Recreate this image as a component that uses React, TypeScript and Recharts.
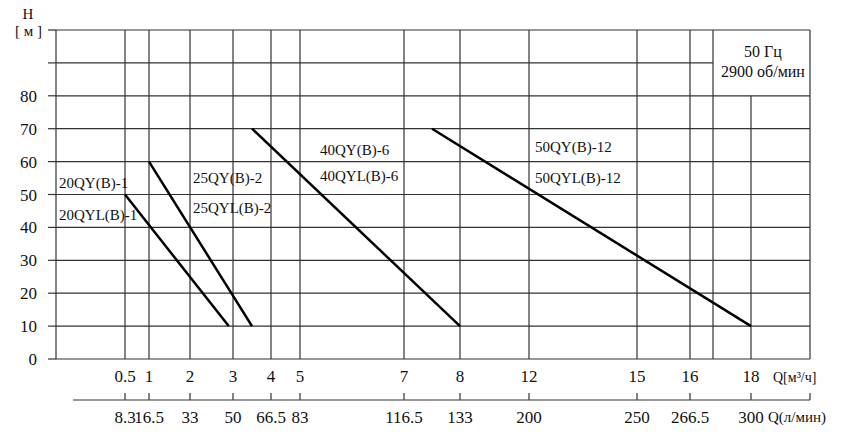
import React from "react";
import { LineChart, Line, XAxis, YAxis, ReferenceLine, ReferenceDot } from "recharts";

// Q axis is not linear: each tick has its own place along the axis (0..754)
const qTicks = [0.5, 1, 2, 3, 4, 5, 7, 8, 12, 15, 16, 18];
const lminTicks = ["8.3", "16.5", "33", "50", "66.5", "83", "116.5", "133", "200", "250", "266.5", "300"];
const qStops = [69, 93, 134, 177, 215, 244, 348, 404, 473, 581, 634, 695];
const axisEnd = 754;
const boxEdge = 657;
const hTicks = [0, 10, 20, 30, 40, 50, 60, 70, 80, 90, 100];

// pump curves, Q in m3/h, H in m
const pump20 = [{ q: 0.5, h: 50 }, { q: 2.9, h: 10 }];
const pump25 = [{ q: 1, h: 60 }, { q: 3.5, h: 10 }];
const pump40 = [{ q: 3.5, h: 70 }, { q: 8, h: 10 }];
const pump50 = [{ q: 7.5, h: 70 }, { q: 18, h: 10 }];

const curveLabels = ["20QY(B)-1", "20QYL(B)-1", "25QY(B)-2", "25QYL(B)-2", "40QY(B)-6", "40QYL(B)-6", "50QY(B)-12", "50QYL(B)-12"];
const labelAnchors = [
  [3, 52], [3, 42.2], [137, 53.5], [137, 44.4],
  [264, 62], [264, 54.1], [479, 62.9], [479, 53.5],
];

const GRID = "#333";
const FONT = "'Liberation Serif', 'Times New Roman', serif";
const ROW2 = 41; // gap between the plot bottom and the l/min axis line
const ROW2_START = 17; // l/min axis line starts a bit right of the plot edge

const qToPos = (q: number) => {
  for (let i = 0; i < qTicks.length - 1; i++) {
    if (q <= qTicks[i + 1]) {
      const t = (q - qTicks[i]) / (qTicks[i + 1] - qTicks[i]);
      return qStops[i] + t * (qStops[i + 1] - qStops[i]);
    }
  }
  return qStops[qStops.length - 1];
};

const toPoints = (arr: { q: number; h: number }[]) => arr.map(p => ({ x: qToPos(p.q), h: p.h }));

// draws both rows: m3/h labels, then the l/min axis with its ticks and labels
const QTick = ({ x, y, payload }: any) => {
  const i = qStops.indexOf(payload.value);
  const y2 = y + ROW2;
  if (i < 0) {
    return (
      <g fontFamily={FONT} fill="#111">
        <text x={x - 37} y={y + 23} fontSize={14}>Q[м³/ч]</text>
        <line x1={x - (axisEnd - ROW2_START)} y1={y2} x2={x} y2={y2} stroke={GRID} strokeWidth={1.2} />
        <line x1={x} y1={y2 - 7} x2={x} y2={y2} stroke={GRID} strokeWidth={1.2} />
        <text x={x - 42} y={y2 + 22} fontSize={15}>Q(л/мин)</text>
      </g>
    );
  }
  return (
    <g fontFamily={FONT} fill="#111">
      <text x={x} y={y + 23} fontSize={17} textAnchor="middle">{qTicks[i]}</text>
      <line x1={x} y1={y2 - 7} x2={x} y2={y2} stroke={GRID} strokeWidth={1.2} />
      <text x={x} y={y2 + 23} fontSize={17} textAnchor="middle">{lminTicks[i]}</text>
    </g>
  );
};

const HTick = ({ x, y, payload }: any) => {
  if (payload.value === 100) {
    return (
      <g fontFamily={FONT} fill="#111">
        <text x={x - 9} y={y - 11} fontSize={15} textAnchor="middle">H</text>
        <text x={x + 5} y={y + 6} fontSize={15} textAnchor="end">[ м ]</text>
      </g>
    );
  }
  if (payload.value > 80) return <g />;
  return (
    <text x={x} y={y + 6} fontSize={17} fill="#111" textAnchor="end" fontFamily={FONT}>
      {payload.value}
    </text>
  );
};

const TextMark = (text: string, anchor: "start" | "middle", size: number) => (props: any) => (
  <text x={props.cx} y={props.cy} fontSize={size} fill="#111" textAnchor={anchor} fontFamily={FONT}>
    {text}
  </text>
);

export default function App() {
  const curves = [pump20, pump25, pump40, pump50];
  return (
    <div style={{ position: "absolute", left: 0, top: 0, background: "#fff" }}>
      <LineChart width={848} height={436} margin={{ top: 30, right: 38, left: 0, bottom: 0 }}>
        <XAxis
          xAxisId="q"
          type="number"
          dataKey="x"
          domain={[0, axisEnd]}
          ticks={[...qStops, axisEnd]}
          interval={0}
          axisLine={false}
          tickLine={false}
          tickSize={0}
          tickMargin={0}
          height={77}
          tick={<QTick />}
        />
        <YAxis
          type="number"
          domain={[0, 100]}
          ticks={hTicks}
          interval={0}
          width={56}
          tickSize={8}
          tickMargin={11}
          axisLine={{ stroke: GRID, strokeWidth: 1.2 }}
          tickLine={{ stroke: GRID, strokeWidth: 1.2 }}
          tick={<HTick />}
        />

        {hTicks.filter(v => v !== 90).map(v => (
          <ReferenceLine key={"h" + v} xAxisId="q" y={v} stroke={GRID} strokeWidth={1.2} />
        ))}
        <ReferenceLine xAxisId="q" segment={[{ x: 0, y: 90 }, { x: boxEdge, y: 90 }]} stroke={GRID} strokeWidth={1.2} />
        {qStops.slice(0, -1).map(p => (
          <ReferenceLine key={"v" + p} xAxisId="q" x={p} stroke={GRID} strokeWidth={1.2} />
        ))}
        <ReferenceLine xAxisId="q" segment={[{ x: qStops[qStops.length - 1], y: 0 }, { x: qStops[qStops.length - 1], y: 80 }]} stroke={GRID} strokeWidth={1.2} />
        <ReferenceLine xAxisId="q" x={boxEdge} stroke={GRID} strokeWidth={1.2} />
        <ReferenceLine xAxisId="q" x={axisEnd} stroke={GRID} strokeWidth={1.2} />

        {curves.map((c, i) => (
          <Line
            key={i}
            xAxisId="q"
            data={toPoints(c)}
            dataKey="h"
            type="linear"
            stroke="#000"
            strokeWidth={2.5}
            dot={false}
            activeDot={false}
            isAnimationActive={false}
          />
        ))}

        {curveLabels.map((t, i) => (
          <ReferenceDot key={t} xAxisId="q" x={labelAnchors[i][0]} y={labelAnchors[i][1]} r={0} shape={TextMark(t, "start", 15)} />
        ))}
        <ReferenceDot xAxisId="q" x={707} y={91.8} r={0} shape={TextMark("50 Гц", "middle", 16)} />
        <ReferenceDot xAxisId="q" x={707} y={85.7} r={0} shape={TextMark("2900 об/мин", "middle", 16)} />
      </LineChart>
    </div>
  );
}
